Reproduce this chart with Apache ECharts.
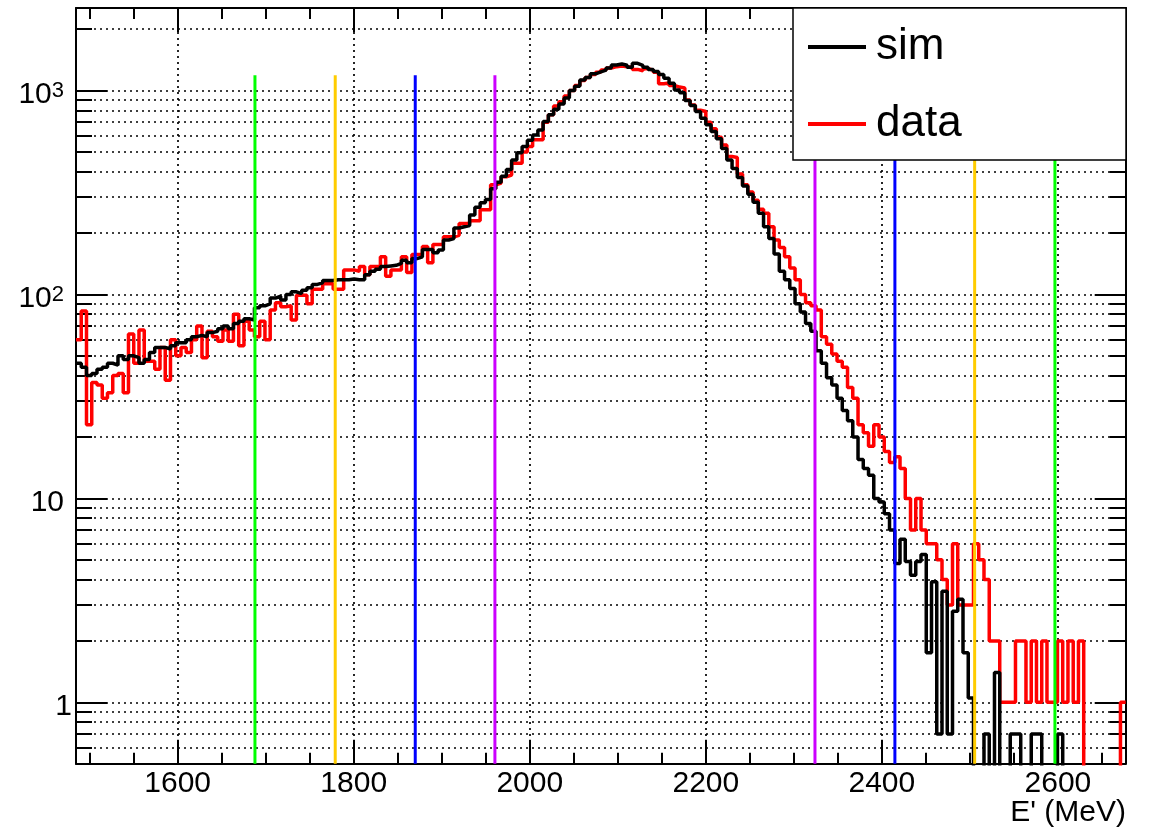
<!DOCTYPE html>
<html>
<head>
<meta charset="utf-8">
<script src="https://cdn.jsdelivr.net/npm/echarts@6/dist/echarts.min.js"></script>
<style>
html,body{margin:0;padding:0;background:#fff;}
#chart{width:1155px;height:838px;}
</style>
</head>
<body>
<div id="chart"></div>
<script>
// ---- Histogram binning, E' (MeV) ----
const binLow = 1484.5;
const binHigh = 2677;

// ---- sim (black), 200 bins ----
const simCounts = [
  46,44,40,41,43,44,46,45,50,48,
  50,49,46,48,52,55,55,54,56,58,
  58,60,62,63,62,65,66,68,70,68,
  72,74,76,75,86,88,90,96,98,94,
  100,103,101,105,108,112,114,117,117,118,
  118,118,119,118,118,125,130,133,137,138,
  139,142,147,143,150,153,166,166,160,165,
  185,188,212,215,218,245,268,282,292,330,
  355,380,410,457,495,532,570,605,640,705,
  760,810,860,920,1000,1050,1125,1160,1208,1235,
  1260,1290,1335,1350,1330,1300,1360,1330,1300,1270,
  1240,1200,1150,1085,1007,975,895,845,790,732,
  680,630,580,520,457,415,375,340,310,283,
  250,215,188,158,130,118,107,90,82,72,
  66,53,46,39,36,31,27,24,20,15.5,
  14,13,10,9.6,8.4,7.0,4.8,6.3,4.9,4.2,
  4.9,5.3,1.75,3.9,0.7,3.5,0.7,2.8,3.2,1.75,
  1.05,0,0,0.7,0,1.4,0,0,0.7,0.7,
  0,0,0.7,0.7,0,0,0,0.7,0,0,
  0,0,0,0,0,0,0,0,0,0
];

// ---- data (red), 200 bins ----
const dataCounts = [
  60,83,23,37,36,31,33,40,41,33,
  64,46,67,47,47,43,55,38,60,50,
  55,52,60,70,49,66,62,59,67,59,
  80,56,74,67,62,74,60,84,91,87,
  88,75,99,99,90,106,106,113,113,106,
  106,132,132,130,137,125,137,137,153,123,
  132,132,153,128,157,157,172,143,176,176,
  192,192,195,223,223,230,230,260,260,345,
  352,378,385,440,440,500,532,573,573,700,
  760,840,880,940,1000,1060,1120,1160,1200,1230,
  1260,1290,1310,1320,1310,1300,1270,1250,1280,1260,
  1230,1080,1090,1060,1040,1030,900,850,800,790,
  700,650,590,540,475,470,390,345,318,290,
  262,250,215,185,170,153,135,118,100,91,
  88,84,62,57,51,47,44,35,31,23,
  21,18,23,20,17,15,16,14,10,7,
  10,7,6,6,5,4,3,6,3,3,
  3,6,5,4,2,2,1,1,1,2,
  2,1,2,1,2,1,1,2,1,2,
  1,2,0,0,0,0,0,0,0,1
];

// ---- vertical cut lines (MeV) ----
const cutsLow  = [1687.8, 1779.0, 1869.9, 1960.4];
const cutsHigh = [2596.6, 2505.4, 2414.8, 2324.0];
const cutTop = 1190;

// ---- axes ----
const yMin = 0.5, yMax = 2540;
const xMajorTicks = [1600, 1800, 2000, 2200, 2400, 2600];
const xMinorTicks = [1500, 1550, 1650, 1700, 1750, 1850, 1900, 1950, 2050, 2100, 2150, 2250, 2300, 2350, 2450, 2500, 2550, 2650];
const yMajorTicks = [1, 10, 100, 1000];
const yGridTicks = [0.6, 0.7, 0.8, 0.9, 1, 2, 3, 4, 5, 6, 7, 8, 9, 10, 20, 30, 40, 50, 60, 70, 80, 90,
                    100, 200, 300, 400, 500, 600, 700, 800, 900, 1000, 2000];

// styles
const FONT = '"Liberation Sans", Arial, Helvetica, sans-serif';
const cutColors = ['#00ff00', '#ffcc00', '#0000ff', '#cc00ff'];
const EMPTY_FLOOR = 0.1; // ROOT draws empty bins at the bottom of a log axis

function histPoints(counts) {
  const w = (binHigh - binLow) / counts.length;
  const pts = counts.map((c, i) => [binLow + i * w, c > 0 ? c : EMPTY_FLOOR]);
  pts.push([binHigh, pts[pts.length - 1][1]]);
  return pts;
}

const dotted = { color: '#000', width: 1.7, type: [2, 4] };
const frame = { show: true, onZero: false, lineStyle: { color: '#000', width: 2 } };
const noLine = { show: false, onZero: false };

function xAx(pos, ticks, len, opts) {
  return Object.assign({
    type: 'value', position: pos, min: binLow, max: binHigh,
    axisLine: noLine,
    axisTick: { show: true, inside: true, length: len, customValues: ticks, lineStyle: { color: '#000', width: 2 } },
    axisLabel: { show: false },
    splitLine: { show: false }
  }, opts || {});
}
function yAx(pos, ticks, len, opts) {
  return Object.assign({
    type: 'log', logBase: 10, position: pos, min: yMin, max: yMax,
    axisLine: noLine,
    axisTick: { show: true, inside: true, length: len, customValues: ticks, lineStyle: { color: '#000', width: 2 } },
    axisLabel: { show: false },
    splitLine: { show: false }
  }, opts || {});
}

const series = [
  {
    name: 'data', type: 'line', step: 'end', symbol: 'none', showSymbol: false,
    data: histPoints(dataCounts), clip: true, z: 2,
    lineStyle: { color: '#ff0000', width: 3.5 }, itemStyle: { color: '#ff0000' }
  },
  {
    name: 'sim', type: 'line', step: 'end', symbol: 'none', showSymbol: false,
    data: histPoints(simCounts), clip: true, z: 2,
    lineStyle: { color: '#000000', width: 3.5 }, itemStyle: { color: '#000000' }
  }
];
[cutsLow, cutsHigh].forEach(function (arr, side) {
  arr.forEach(function (x, i) {
    series.push({
      name: 'cut' + side + i, type: 'line', symbol: 'none', silent: true, z: 2.5,
      data: [[x, yMin], [x, cutTop]],
      lineStyle: { color: cutColors[i], width: 3 }
    });
  });
});

const option = {
  animation: false,
  backgroundColor: '#ffffff',
  grid: { left: 76, right: 29.3, top: 8, bottom: 74.3, containLabel: false },
  xAxis: [
    xAx('bottom', xMajorTicks, 24, {
      axisLine: frame,
      axisLabel: { show: true, customValues: xMajorTicks, color: '#000', fontSize: 30, lineHeight: 30,
                   fontFamily: FONT, margin: 5.5, formatter: function (v) { return String(v); } },
      splitLine: { show: true, lineStyle: dotted }
    }),
    xAx('bottom', xMinorTicks, 11),
    xAx('top', xMajorTicks, 24, { axisLine: frame }),
    xAx('top', xMinorTicks, 11)
  ],
  yAxis: [
    yAx('left', yGridTicks, 16, {
      axisLine: frame,
      axisLabel: {
        show: true, customValues: yMajorTicks, margin: 4, padding: [9, 0, 0, 0],
        formatter: function (v) {
          const e = Math.round(Math.log10(v));
          if (e === 0) return '{one|1}';
          if (e === 1) return '{tenEnd|10}';
          return '{ten|10}{sup|' + e + '}';
        },
        rich: {
          one: { fontSize: 30, lineHeight: 30, fontFamily: FONT, color: '#000' },
          ten: { fontSize: 30, lineHeight: 30, fontFamily: FONT, color: '#000' },
          tenEnd: { fontSize: 30, lineHeight: 30, fontFamily: FONT, color: '#000', padding: [0, 8, 0, 0] },
          sup: { fontSize: 22, lineHeight: 15, fontFamily: FONT, color: '#000', verticalAlign: 'top', padding: [0, 8, 0, 0] }
        }
      },
      splitLine: { show: true, lineStyle: dotted }
    }),
    yAx('left', yMajorTicks, 31),
    yAx('right', yGridTicks, 16, { axisLine: frame }),
    yAx('right', yMajorTicks, 31)
  ],
  legend: {
    data: ['sim', 'data'],
    orient: 'vertical',
    left: 806, top: 25, padding: 0,
    itemWidth: 58, itemHeight: 14, itemGap: 33,
    itemStyle: { opacity: 0 },
    lineStyle: { width: 4 },
    textStyle: { fontSize: 44, lineHeight: 44, fontFamily: FONT, color: '#000', padding: [0, 0, 0, 5] },
    z: 10
  },
  graphic: {
    elements: [
      { type: 'rect', z: 5, shape: { x: 793, y: 8, width: 333, height: 152 },
        style: { fill: '#ffffff', stroke: '#000000', lineWidth: 1.5 } },
      { type: 'text', z: 5, style: { text: "E' (MeV)", x: 1126, y: 812.6, align: 'right', verticalAlign: 'middle',
        fontSize: 30, fontFamily: FONT, fill: '#000' } }
    ]
  },
  series: series
};

const chart = echarts.init(document.getElementById('chart'), null, { renderer: 'canvas' });
chart.setOption(option);
</script>
</body>
</html>
